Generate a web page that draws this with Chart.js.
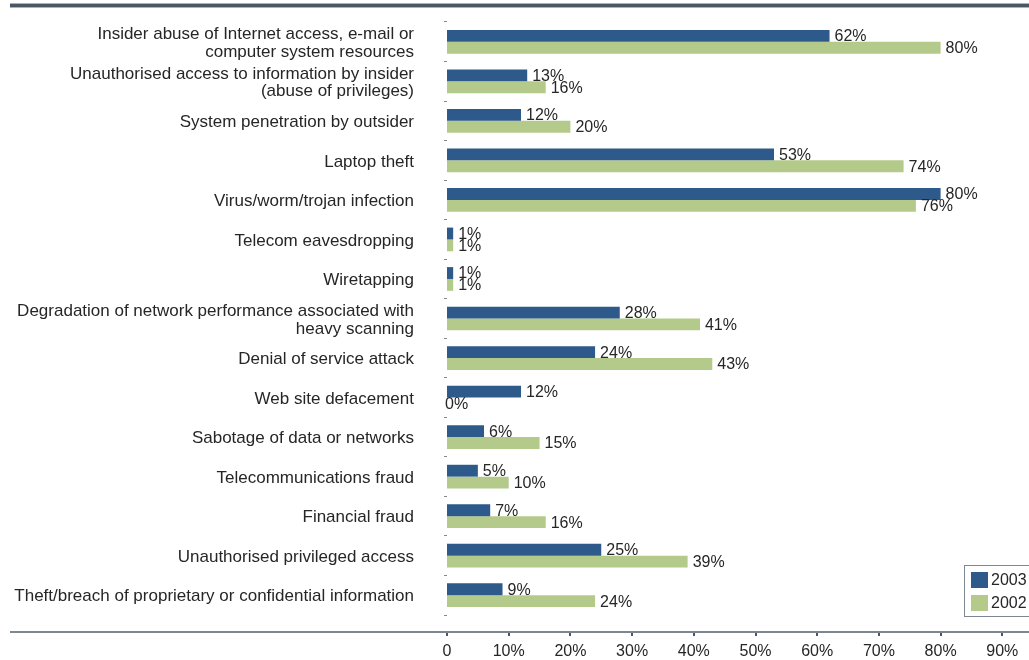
<!DOCTYPE html>
<html>
<head>
<meta charset="utf-8">
<script src="https://cdn.jsdelivr.net/npm/chart.js@4"></script>
<style>
  html, body { margin: 0; padding: 0; background: #fff; overflow: hidden; }
  #wrap { position: relative; width: 1090px; height: 660px; }
</style>
</head>
<body>
<div id="wrap"><canvas id="incidentChart"></canvas></div>
<script>
const categories = [
  ["Insider abuse of Internet access, e-mail or", "computer system resources"],
  ["Unauthorised access to information by insider", "(abuse of privileges)"],
  "System penetration by outsider",
  "Laptop theft",
  "Virus/worm/trojan infection",
  "Telecom eavesdropping",
  "Wiretapping",
  ["Degradation of network performance associated with", "heavy scanning"],
  "Denial of service attack",
  "Web site defacement",
  "Sabotage of data or networks",
  "Telecommunications fraud",
  "Financial fraud",
  "Unauthorised privileged access",
  "Theft/breach of proprietary or confidential information"
];
const values2003 = [62, 13, 12, 53, 80, 1, 1, 28, 24, 12, 6, 5, 7, 25, 9];
const values2002 = [80, 16, 20, 74, 76, 1, 1, 41, 43, 0, 15, 10, 16, 39, 24];
const xTicks = [0, 10, 20, 30, 40, 50, 60, 70, 80, 90, 100];

const FONT = "'Liberation Sans', Arial, sans-serif";

// value labels next to each bar
const barLabels = {
  id: "barLabels",
  afterDatasetsDraw(chart) {
    const ctx = chart.ctx;
    ctx.save();
    ctx.font = "16px " + FONT;
    ctx.fillStyle = "#262626";
    ctx.textBaseline = "middle";
    chart.data.datasets.forEach((ds, i) => {
      chart.getDatasetMeta(i).data.forEach((bar, j) => {
        const v = ds.data[j];
        const x = v === 0 ? bar.x - 2 : bar.x + 5;
        ctx.fillText(v + "%", x, bar.y + 1);
      });
    });
    ctx.restore();
  }
};

// rules at top and along the x axis, plus the boxed legend
const frame = {
  id: "frame",
  afterDraw(chart) {
    const ctx = chart.ctx;
    const area = chart.chartArea;
    const xs = chart.scales.x;
    ctx.save();
    // top rule
    ctx.fillStyle = "#aab3bc";
    ctx.fillRect(10, 3, chart.width, 5);
    ctx.fillStyle = "#4a5866";
    ctx.fillRect(10, 4, chart.width, 3);
    // x axis rule
    const axisY = area.bottom + 17;
    ctx.fillStyle = "#7d8893";
    ctx.fillRect(10, axisY - 1, chart.width, 2);
    xs.ticks.forEach((t, i) => {
      const px = Math.round(xs.getPixelForTick(i));
      ctx.fillStyle = "#4a5866";
      ctx.fillRect(px - 1, axisY + 1, 2, 3);
    });
    // legend
    const lx = 964, ly = 565;
    ctx.fillStyle = "#fff";
    ctx.fillRect(lx, ly, 90, 51);
    ctx.strokeStyle = "#7d8893";
    ctx.lineWidth = 1;
    ctx.strokeRect(lx + 0.5, ly + 0.5, 90, 51);
    ctx.font = "16px " + FONT;
    ctx.textBaseline = "middle";
    chart.data.datasets.forEach((ds, i) => {
      const y = ly + 7 + i * 23;
      ctx.fillStyle = ds.backgroundColor;
      ctx.fillRect(lx + 7, y, 17, 16);
      ctx.fillStyle = "#262626";
      ctx.fillText(ds.label, lx + 27, y + 9);
    });
    ctx.restore();
  }
};

new Chart(document.getElementById("incidentChart").getContext("2d"), {
  type: "bar",
  data: {
    labels: categories,
    datasets: [
      { label: "2003", data: values2003, backgroundColor: "#2d5a8a", categoryPercentage: 0.6, barPercentage: 1 },
      { label: "2002", data: values2002, backgroundColor: "#b4ca8b", categoryPercentage: 0.6, barPercentage: 1 }
    ]
  },
  options: {
    indexAxis: "y",
    responsive: true,
    maintainAspectRatio: false,
    animation: false,
    layout: { padding: { top: 22, right: 26, left: 0, bottom: 0 } },
    plugins: { legend: { display: false }, tooltip: { enabled: false } },
    scales: {
      y: {
        afterFit(scale) {
          scale.width = 447;
          scale.paddingTop = 0;
          scale.paddingBottom = 0;
        },
        grid: { offset: true, drawOnChartArea: false, drawTicks: true, tickLength: 3, color: "#888" },
        border: { display: false },
        ticks: {
          color: "#262626",
          font: { family: FONT, size: 17, lineHeight: 1.05 },
          padding: 30,
          labelOffset: 1.5,
          autoSkip: false
        }
      },
      x: {
        min: 0,
        max: 100,
        afterFit(scale) {
          scale.height = 45;
          scale.paddingLeft = 0;
          scale.paddingRight = 0;
        },
        afterBuildTicks(scale) { scale.ticks = xTicks.map(v => ({ value: v })); },
        grid: { display: false },
        border: { display: false },
        ticks: {
          color: "#262626",
          font: { family: FONT, size: 16 },
          padding: 19,
          callback: v => v === 0 ? "0" : v + "%"
        }
      }
    }
  },
  plugins: [barLabels, frame]
});
</script>
</body>
</html>
